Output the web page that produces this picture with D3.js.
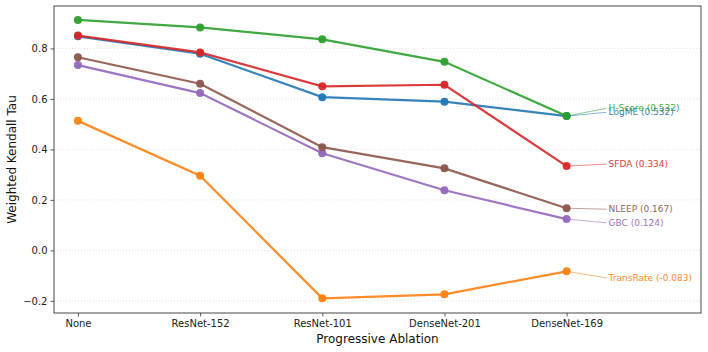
<!DOCTYPE html>
<html>
<head>
<meta charset="utf-8">
<script src="https://cdn.jsdelivr.net/npm/d3@7"></script>
<style>
  body { margin: 0; background: #fff; }
  svg { font-family: "DejaVu Sans", sans-serif; }
  .tick text { fill: #222; }
</style>
</head>
<body>
<svg width="708" height="352"></svg>
<script>
const stages = ['None', 'ResNet-152', 'ResNet-101', 'DenseNet-201', 'DenseNet-169'];
const methods = ['LogME', 'TransRate', 'H-Score', 'SFDA', 'GBC', 'NLEEP'];
const logme = [0.848, 0.779, 0.607, 0.589, 0.532];
const transrate = [0.513, 0.296, -0.190, -0.174, -0.083];
const hscore = [0.913, 0.883, 0.836, 0.747, 0.532];
const sfda = [0.851, 0.784, 0.650, 0.656, 0.334];
const gbc = [0.734, 0.623, 0.385, 0.238, 0.124];
const nleep = [0.765, 0.660, 0.409, 0.325, 0.167];
const yTicks = [-0.2, 0.0, 0.2, 0.4, 0.6, 0.8];

const series = [logme, transrate, hscore, sfda, gbc, nleep];
const colors = ['#1f77b4', '#ff7f0e', '#2ca02c', '#d62728', '#9467bd', '#8c564b'];
// pixel nudges so the end labels don't sit on top of each other
const labelNudge = [-3.8, 6.6, -7.8, -2, 3.7, 1];

const margin = { top: 6, right: 7, bottom: 39, left: 54 };
const width = 708, height = 352;
const svg = d3.select('svg');

const x = d3.scaleLinear()
  .domain([-0.196, 5.1])
  .range([margin.left, width - margin.right]);
const y = d3.scaleLinear()
  .domain([-0.248, 0.968])
  .range([height - margin.bottom, margin.top]);

// grid
svg.append('g')
  .selectAll('line')
  .data(yTicks)
  .join('line')
  .attr('x1', margin.left)
  .attr('x2', width - margin.right)
  .attr('y1', d => y(d))
  .attr('y2', d => y(d))
  .attr('stroke', '#ccc')
  .attr('stroke-width', 0.6)
  .attr('stroke-dasharray', '1,2');

// lines + points
const lineGen = d3.line().x((d, i) => x(i)).y(d => y(d));
series.forEach((vals, k) => {
  const g = svg.append('g');
  g.append('path')
    .datum(vals)
    .attr('d', lineGen)
    .attr('fill', 'none')
    .attr('stroke', colors[k])
    .attr('stroke-width', 2.2)
    .attr('opacity', 0.9);
  g.selectAll('circle')
    .data(vals)
    .join('circle')
    .attr('cx', (d, i) => x(i))
    .attr('cy', d => y(d))
    .attr('r', 4)
    .attr('fill', colors[k])
    .attr('opacity', 0.95);
});

// end labels
const last = stages.length - 1;
series.forEach((vals, k) => {
  const v = vals[last];
  const px = x(last), py = y(v);
  const tx = px + 42, ty = py + labelNudge[k];
  svg.append('line')
    .attr('x1', px).attr('y1', py)
    .attr('x2', tx - 2).attr('y2', ty)
    .attr('stroke', colors[k])
    .attr('stroke-width', 0.9)
    .attr('opacity', 0.6);
  svg.append('text')
    .attr('x', tx)
    .attr('y', ty)
    .attr('dy', '0.35em')
    .attr('font-size', 9)
    .attr('fill', colors[k])
    .attr('opacity', 0.9)
    .text(`${methods[k]} (${v.toFixed(3)})`);
});

// axes
const fmt = d => (d < 0 ? '\u2212' : '') + Math.abs(d).toFixed(1);
const yAxis = svg.append('g')
  .attr('transform', `translate(${margin.left},0)`)
  .call(d3.axisLeft(y).tickValues(yTicks).tickFormat(fmt).tickSize(3.5).tickPadding(3));
const xAxis = svg.append('g')
  .attr('transform', `translate(0,${height - margin.bottom})`)
  .call(d3.axisBottom(x).tickValues(d3.range(stages.length)).tickFormat(i => stages[i]).tickSize(3.5).tickPadding(3));
[yAxis, xAxis].forEach(a => {
  a.select('.domain').remove();
  a.selectAll('.tick line').attr('stroke', '#333').attr('stroke-width', 0.8);
  a.selectAll('.tick text').attr('font-size', 10).attr('font-family', 'DejaVu Sans, sans-serif');
});

// frame
svg.append('rect')
  .attr('x', margin.left)
  .attr('y', margin.top)
  .attr('width', width - margin.left - margin.right)
  .attr('height', height - margin.top - margin.bottom)
  .attr('fill', 'none')
  .attr('stroke', '#333')
  .attr('stroke-width', 0.9);

svg.append('text')
  .attr('x', (margin.left + width - margin.right) / 2)
  .attr('y', 343)
  .attr('text-anchor', 'middle')
  .attr('font-size', 12)
  .attr('fill', '#111')
  .text('Progressive Ablation');

svg.append('text')
  .attr('transform', `translate(16,${(margin.top + height - margin.bottom) / 2}) rotate(-90)`)
  .attr('text-anchor', 'middle')
  .attr('font-size', 12)
  .attr('fill', '#111')
  .text('Weighted Kendall Tau');
</script>
</body>
</html>
